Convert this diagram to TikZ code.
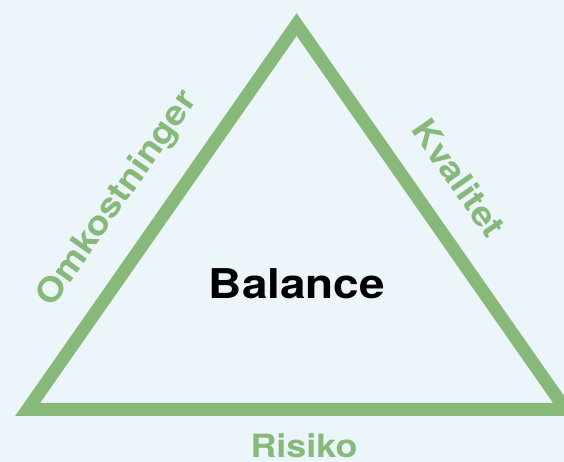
\documentclass[tikz,border=0pt]{standalone}
\usepackage{fontspec}
\setmainfont[FakeStretch=1.12]{TeX Gyre Heros}
\definecolor{sidegreen}{RGB}{134,185,122}
\definecolor{paleblue}{RGB}{236,245,249}
\begin{document}
\begin{tikzpicture}[x=1pt,y=1pt]
\useasboundingbox (0,0) rectangle (564,462);
\fill[paleblue] (0,0) rectangle (564,462);
\clip (0,0) rectangle (564,462);

% corners of the triangle
\coordinate (left) at (27.6,52.5);
\coordinate (top) at (296.6,437.5);
\coordinate (right) at (565.6,52.5);
\draw[sidegreen,line width=13pt] (left) -- (top) -- (right) -- cycle;

\node[anchor=base] (balance) at (297,163) {\fontsize{41}{46}\selectfont\bfseries Balance};
\node[sidegreen,rotate=55] (cost) at (118,263) {\fontsize{33.5}{38}\selectfont\bfseries Omkostninger};
\node[sidegreen,rotate=-55] (quality) at (459,284) {\fontsize{33.5}{38}\selectfont\bfseries Kvalitet};
\node[sidegreen,anchor=base] (risk) at (304,4) {\fontsize{32}{36}\selectfont\bfseries Risiko};
\end{tikzpicture}
\end{document}
